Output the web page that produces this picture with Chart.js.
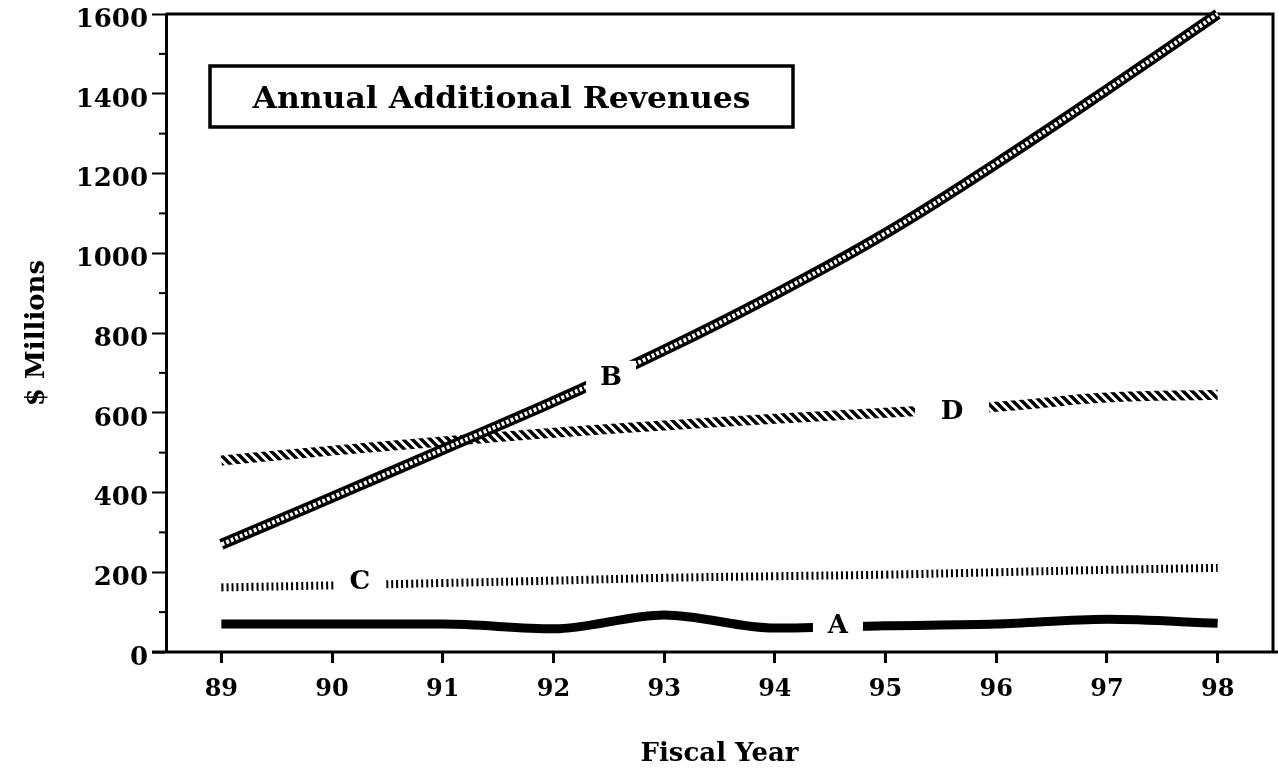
<!DOCTYPE html>
<html>
<head>
<meta charset="utf-8">
<script src="https://cdn.jsdelivr.net/npm/chart.js@4.4.1/dist/chart.umd.min.js"></script>
<style>
  html, body { margin: 0; padding: 0; background: #fff; }
  #wrap { width: 1278px; height: 772px; }
</style>
</head>
<body>
<div id="wrap"><canvas id="c" width="1278" height="772"></canvas></div>
<script>
// ---- data ----
const years = ['89', '90', '91', '92', '93', '94', '95', '96', '97', '98'];
const seriesA = [70, 70, 70, 58, 93, 60, 66, 70, 82, 72];
const seriesB = [270, 388, 508, 628, 757, 897, 1050, 1225, 1410, 1600];
const seriesC = [162, 167, 173, 179, 186, 190, 194, 200, 206, 211];
const seriesD = [480, 505, 528, 550, 568, 585, 600, 615, 638, 645];
const yMajorTicks = [0, 200, 400, 600, 800, 1000, 1200, 1400, 1600];
const yMinorTicks = [100, 300, 500, 700, 900, 1100, 1300, 1500];
// line labels: text, x position (category index), y value
const lineLabels = [
  { text: 'A', x: 5.57, y: 66, gap: 50 },
  { text: 'B', x: 3.52, y: 690, gap: 50 },
  { text: 'C', x: 1.25, y: 178, gap: 52 },
  { text: 'D', x: 6.60, y: 604, gap: 74 }
];
const chartTitle = 'Annual Additional Revenues';

const SERIF = '"DejaVu Serif", "Liberation Serif", serif';

// hatch pattern for series D
function hatchPattern() {
  const s = 9;
  const pc = document.createElement('canvas');
  pc.width = s; pc.height = s;
  const p = pc.getContext('2d');
  p.strokeStyle = '#000';
  p.lineWidth = 3.4;
  p.beginPath();
  p.moveTo(-2, -2); p.lineTo(s + 2, s + 2);
  p.moveTo(-3, s - 3); p.lineTo(3, s + 3);
  p.moveTo(s - 3, -3); p.lineTo(s + 3, 3);
  p.stroke();
  return document.getElementById('c').getContext('2d').createPattern(pc, 'repeat');
}

const framePlugin = {
  id: 'frame',
  beforeDatasetsDraw(chart) {
    const { ctx, chartArea: a } = chart;
    const y = chart.scales.y;
    ctx.save();
    ctx.strokeStyle = '#000';
    // top and right border
    ctx.lineWidth = 3;
    ctx.beginPath();
    ctx.moveTo(a.left, a.top); ctx.lineTo(a.right, a.top); ctx.lineTo(a.right, a.bottom);
    ctx.stroke();
    // x axis line extended
    ctx.beginPath();
    ctx.moveTo(a.left - 14, a.bottom); ctx.lineTo(chart.width, a.bottom);
    ctx.stroke();
    // minor y ticks
    ctx.lineWidth = 2;
    yMinorTicks.forEach(v => {
      const py = y.getPixelForValue(v);
      ctx.beginPath();
      ctx.moveTo(a.left - 7, py); ctx.lineTo(a.left, py);
      ctx.stroke();
    });
    // title box
    const bx = a.left + 44, by = a.top + 52, bw = 583, bh = 61;
    ctx.lineWidth = 3.5;
    ctx.strokeRect(bx, by, bw, bh);
    ctx.fillStyle = '#000';
    ctx.textAlign = 'center';
    ctx.textBaseline = 'alphabetic';
    const fs = 30;
    ctx.font = 'bold ' + fs + 'px ' + SERIF;
    const w = ctx.measureText(chartTitle).width;
    const target = 498;
    ctx.translate(bx + bw / 2, by + 42);
    ctx.scale(target / w, 1);
    ctx.fillText(chartTitle, 0, 0);
    ctx.restore();
  },
  afterDatasetsDraw(chart) {
    const { ctx } = chart;
    const xs = chart.scales.x, ys = chart.scales.y;
    ctx.save();
    lineLabels.forEach(l => {
      const px = xs.getPixelForValue(l.x);
      const py = ys.getPixelForValue(l.y);
      ctx.fillStyle = '#fff';
      ctx.fillRect(px - l.gap / 2, py - 16, l.gap, 32);
      ctx.fillStyle = '#000';
      ctx.font = 'bold 26px ' + SERIF;
      ctx.textAlign = 'center';
      ctx.textBaseline = 'middle';
      ctx.fillText(l.text, px, py + 1);
    });
    ctx.restore();
  }
};

const common = { pointRadius: 0, fill: false, tension: 0.4, clip: false };

new Chart(document.getElementById('c'), {
  type: 'line',
  data: {
    labels: years,
    datasets: [
      Object.assign({ label: 'B inner', data: seriesB, borderColor: '#fff', borderWidth: 4, borderDash: [3, 2], order: 0 }, common),
      Object.assign({ label: 'B', data: seriesB, borderColor: '#000', borderWidth: 11, order: 1 }, common),
      Object.assign({ label: 'D', data: seriesD, borderColor: hatchPattern(), borderWidth: 10, order: 2 }, common),
      Object.assign({ label: 'C', data: seriesC, borderColor: '#000', borderWidth: 8, borderDash: [2, 3], borderCapStyle: 'butt', order: 3 }, common),
      Object.assign({ label: 'A', data: seriesA, borderColor: '#000', borderWidth: 9, order: 4, cubicInterpolationMode: 'monotone' }, common)
    ]
  },
  options: {
    responsive: false,
    animation: false,
    layout: { padding: { top: 14, right: 5, left: 0, bottom: 0 } },
    plugins: { legend: { display: false }, tooltip: { enabled: false } },
    scales: {
      x: {
        type: 'category',
        offset: true,
        afterFit(s) { s.height = 120; s.paddingLeft = 0; s.paddingRight = 0; },
        grid: { offset: false, drawOnChartArea: false, tickLength: 11, tickWidth: 3, tickColor: '#000' },
        border: { display: false },
        ticks: { color: '#000', padding: 12, maxRotation: 0, font: { family: SERIF, weight: 'bold', size: 24 } },
        title: { display: true, text: 'Fiscal Year', color: '#000', padding: { top: 0, bottom: 2 }, font: { family: SERIF, weight: 'bold', size: 26 } }
      },
      y: {
        min: 0, max: 1600,
        afterFit(s) { s.width = 166; s.paddingTop = 0; s.paddingBottom = 0; },
        afterBuildTicks(s) { s.ticks = yMajorTicks.map(v => ({ value: v })); },
        grid: { drawOnChartArea: false, tickLength: 14, tickWidth: 2, tickColor: '#000' },
        border: { display: true, color: '#000', width: 3 },
        ticks: { color: '#000', padding: 4, labelOffset: 6, callback: v => String(v), font: { family: SERIF, weight: 'bold', size: 26 } },
        title: { display: true, text: '$ Millions', color: '#000', padding: { top: 22, bottom: 0 }, font: { family: SERIF, weight: 'bold', size: 26 } }
      }
    }
  },
  plugins: [framePlugin]
});
</script>
</body>
</html>
